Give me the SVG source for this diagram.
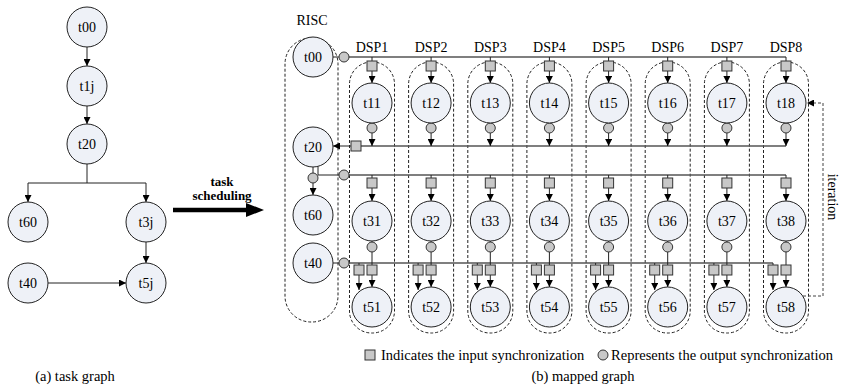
<svg xmlns="http://www.w3.org/2000/svg" width="843" height="388" viewBox="0 0 843 388">
<defs>
<marker id="ah" viewBox="0 0 10 10" refX="10" refY="5" markerUnits="userSpaceOnUse" markerWidth="9" markerHeight="7" orient="auto"><path d="M0,0 L10,5 L0,10 z" fill="#000"/></marker>
<style>
.n{fill:#eef1f7;stroke:#222;stroke-width:1}
.t{font-family:"Liberation Serif","Times New Roman",serif;font-size:14px;fill:#000;text-anchor:middle}
.lg{font-family:"Liberation Serif","Times New Roman",serif;font-size:14.5px;fill:#000}
.b{font-family:"Liberation Serif","Times New Roman",serif;font-size:13px;font-weight:bold;fill:#000;text-anchor:middle}
.c{stroke:#222;stroke-width:1;fill:none}
.bus{stroke:#555;stroke-width:1.5;fill:none}
.a{marker-end:url(#ah)}
.sq{fill:#c8c8c8;stroke:#333;stroke-width:1}
.oc{fill:#c8c8c8;stroke:#333;stroke-width:1}
.box{fill:none;stroke:#222;stroke-width:1;stroke-dasharray:3 2}
.it{fill:none;stroke:#444;stroke-width:1;stroke-dasharray:3 2}
</style>
</defs>
<rect width="843" height="388" fill="#fff"/>

<!-- (a) task graph -->
<g id="a-connectors">
<line class="c a" x1="87" y1="47" x2="87" y2="66"/>
<line class="c a" x1="87" y1="106" x2="87" y2="124"/>
<path class="c" d="M87,164 V183 M28,183 H146"/>
<line class="c a" x1="28" y1="183" x2="28" y2="202"/>
<line class="c a" x1="146" y1="183" x2="146" y2="202"/>
<line class="c a" x1="146" y1="242" x2="146" y2="263"/>
<line class="c a" x1="48" y1="283" x2="126" y2="283"/>
</g>
<g id="a-t00"><circle class="n" cx="87" cy="27" r="20"/><text class="t" x="87" y="32">t00</text></g>
<g id="a-t1j"><circle class="n" cx="87" cy="86" r="20"/><text class="t" x="87" y="91">t1j</text></g>
<g id="a-t20"><circle class="n" cx="87" cy="144" r="20"/><text class="t" x="87" y="149">t20</text></g>
<g id="a-t60"><circle class="n" cx="28" cy="222" r="20"/><text class="t" x="28" y="227">t60</text></g>
<g id="a-t3j"><circle class="n" cx="146" cy="222" r="20"/><text class="t" x="146" y="227">t3j</text></g>
<g id="a-t40"><circle class="n" cx="28" cy="283" r="20"/><text class="t" x="28" y="288">t40</text></g>
<g id="a-t5j"><circle class="n" cx="146" cy="283" r="20"/><text class="t" x="146" y="288">t5j</text></g>
<text class="lg" x="75" y="381" text-anchor="middle">(a) task graph</text>

<!-- task scheduling arrow -->
<g id="sched">
<line x1="173" y1="210" x2="250" y2="210" stroke="#000" stroke-width="4.5"/>
<polygon points="246,203 264,210 246,217" fill="#000"/>
<text class="b" x="222" y="186">task</text>
<text class="b" x="222" y="200">scheduling</text>
</g>

<!-- (b) mapped graph: containers -->
<g id="containers">
<rect class="box" x="285" y="38" width="53" height="284" rx="26"/>
<text class="t" x="312" y="25">RISC</text>
<g transform="translate(372,0)"><rect class="box" x="-22.5" y="62" width="45" height="271" rx="22"/><text class="t" x="0" y="52">DSP1</text></g>
<g transform="translate(431.1,0)"><rect class="box" x="-22.5" y="62" width="45" height="271" rx="22"/><text class="t" x="0" y="52">DSP2</text></g>
<g transform="translate(490.3,0)"><rect class="box" x="-22.5" y="62" width="45" height="271" rx="22"/><text class="t" x="0" y="52">DSP3</text></g>
<g transform="translate(549.4,0)"><rect class="box" x="-22.5" y="62" width="45" height="271" rx="22"/><text class="t" x="0" y="52">DSP4</text></g>
<g transform="translate(608.6,0)"><rect class="box" x="-22.5" y="62" width="45" height="271" rx="22"/><text class="t" x="0" y="52">DSP5</text></g>
<g transform="translate(667.7,0)"><rect class="box" x="-22.5" y="62" width="45" height="271" rx="22"/><text class="t" x="0" y="52">DSP6</text></g>
<g transform="translate(726.9,0)"><rect class="box" x="-22.5" y="62" width="45" height="271" rx="22"/><text class="t" x="0" y="52">DSP7</text></g>
<g transform="translate(786,0)"><rect class="box" x="-22.5" y="62" width="45" height="271" rx="22"/><text class="t" x="0" y="52">DSP8</text></g>
</g>

<!-- connectors -->
<g id="connectors">
<line class="c" x1="333" y1="57" x2="339" y2="57"/>
<line class="bus" x1="349" y1="57" x2="786" y2="57"/>
<line class="bus" x1="361" y1="146" x2="786" y2="146"/>
<line class="c a" x1="351" y1="146" x2="333" y2="146"/>
<line class="c" x1="313" y1="167" x2="313" y2="173"/>
<line class="c a" x1="313" y1="183" x2="313" y2="195"/>
<path class="c" d="M318,166.4 V175 H339"/>
<line class="bus" x1="349" y1="175" x2="786" y2="175"/>
<line class="c" x1="333" y1="263" x2="339" y2="263"/>
<line class="bus" x1="349" y1="263" x2="773" y2="263"/>
<path class="it a" d="M803,296 H823 V103 H807"/>
<g id="col1" transform="translate(372,0)">
<line class="c" x1="0" y1="57" x2="0" y2="61"/><line class="c a" x1="0" y1="71" x2="0" y2="83"/>
<line class="c a" x1="0" y1="133" x2="0" y2="146"/>
<line class="c" x1="0" y1="175" x2="0" y2="178"/><line class="c a" x1="0" y1="188" x2="0" y2="201"/>
<line class="c" x1="0" y1="241" x2="0" y2="265"/><line class="c" x1="-13" y1="263" x2="-13" y2="265"/>
<line class="c a" x1="-13" y1="275" x2="-13" y2="290"/><line class="c a" x1="0" y1="275" x2="0" y2="287"/>
</g>
<g id="col2" transform="translate(431.1,0)">
<line class="c" x1="0" y1="57" x2="0" y2="61"/><line class="c a" x1="0" y1="71" x2="0" y2="83"/>
<line class="c a" x1="0" y1="133" x2="0" y2="146"/>
<line class="c" x1="0" y1="175" x2="0" y2="178"/><line class="c a" x1="0" y1="188" x2="0" y2="201"/>
<line class="c" x1="0" y1="241" x2="0" y2="265"/><line class="c" x1="-13" y1="263" x2="-13" y2="265"/>
<line class="c a" x1="-13" y1="275" x2="-13" y2="290"/><line class="c a" x1="0" y1="275" x2="0" y2="287"/>
</g>
<g id="col3" transform="translate(490.3,0)">
<line class="c" x1="0" y1="57" x2="0" y2="61"/><line class="c a" x1="0" y1="71" x2="0" y2="83"/>
<line class="c a" x1="0" y1="133" x2="0" y2="146"/>
<line class="c" x1="0" y1="175" x2="0" y2="178"/><line class="c a" x1="0" y1="188" x2="0" y2="201"/>
<line class="c" x1="0" y1="241" x2="0" y2="265"/><line class="c" x1="-13" y1="263" x2="-13" y2="265"/>
<line class="c a" x1="-13" y1="275" x2="-13" y2="290"/><line class="c a" x1="0" y1="275" x2="0" y2="287"/>
</g>
<g id="col4" transform="translate(549.4,0)">
<line class="c" x1="0" y1="57" x2="0" y2="61"/><line class="c a" x1="0" y1="71" x2="0" y2="83"/>
<line class="c a" x1="0" y1="133" x2="0" y2="146"/>
<line class="c" x1="0" y1="175" x2="0" y2="178"/><line class="c a" x1="0" y1="188" x2="0" y2="201"/>
<line class="c" x1="0" y1="241" x2="0" y2="265"/><line class="c" x1="-13" y1="263" x2="-13" y2="265"/>
<line class="c a" x1="-13" y1="275" x2="-13" y2="290"/><line class="c a" x1="0" y1="275" x2="0" y2="287"/>
</g>
<g id="col5" transform="translate(608.6,0)">
<line class="c" x1="0" y1="57" x2="0" y2="61"/><line class="c a" x1="0" y1="71" x2="0" y2="83"/>
<line class="c a" x1="0" y1="133" x2="0" y2="146"/>
<line class="c" x1="0" y1="175" x2="0" y2="178"/><line class="c a" x1="0" y1="188" x2="0" y2="201"/>
<line class="c" x1="0" y1="241" x2="0" y2="265"/><line class="c" x1="-13" y1="263" x2="-13" y2="265"/>
<line class="c a" x1="-13" y1="275" x2="-13" y2="290"/><line class="c a" x1="0" y1="275" x2="0" y2="287"/>
</g>
<g id="col6" transform="translate(667.7,0)">
<line class="c" x1="0" y1="57" x2="0" y2="61"/><line class="c a" x1="0" y1="71" x2="0" y2="83"/>
<line class="c a" x1="0" y1="133" x2="0" y2="146"/>
<line class="c" x1="0" y1="175" x2="0" y2="178"/><line class="c a" x1="0" y1="188" x2="0" y2="201"/>
<line class="c" x1="0" y1="241" x2="0" y2="265"/><line class="c" x1="-13" y1="263" x2="-13" y2="265"/>
<line class="c a" x1="-13" y1="275" x2="-13" y2="290"/><line class="c a" x1="0" y1="275" x2="0" y2="287"/>
</g>
<g id="col7" transform="translate(726.9,0)">
<line class="c" x1="0" y1="57" x2="0" y2="61"/><line class="c a" x1="0" y1="71" x2="0" y2="83"/>
<line class="c a" x1="0" y1="133" x2="0" y2="146"/>
<line class="c" x1="0" y1="175" x2="0" y2="178"/><line class="c a" x1="0" y1="188" x2="0" y2="201"/>
<line class="c" x1="0" y1="241" x2="0" y2="265"/><line class="c" x1="-13" y1="263" x2="-13" y2="265"/>
<line class="c a" x1="-13" y1="275" x2="-13" y2="290"/><line class="c a" x1="0" y1="275" x2="0" y2="287"/>
</g>
<g id="col8" transform="translate(786,0)">
<line class="c" x1="0" y1="57" x2="0" y2="61"/><line class="c a" x1="0" y1="71" x2="0" y2="83"/>
<line class="c a" x1="0" y1="133" x2="0" y2="146"/>
<line class="c" x1="0" y1="175" x2="0" y2="178"/><line class="c a" x1="0" y1="188" x2="0" y2="201"/>
<line class="c" x1="0" y1="241" x2="0" y2="265"/><line class="c" x1="-13" y1="263" x2="-13" y2="265"/>
<line class="c a" x1="-13" y1="275" x2="-13" y2="290"/><line class="c a" x1="0" y1="275" x2="0" y2="287"/>
</g>
</g>

<!-- synchronization markers -->
<g id="sync">
<circle class="oc" cx="344" cy="57" r="5"/>
<rect class="sq" x="351" y="141" width="10" height="10"/>
<circle class="oc" cx="313" cy="178" r="5"/>
<circle class="oc" cx="344" cy="175" r="5"/>
<circle class="oc" cx="344" cy="263" r="5"/>
<g transform="translate(372,0)"><rect class="sq" x="-5" y="61" width="10" height="10"/><circle class="oc" cx="0" cy="128" r="5"/><rect class="sq" x="-5" y="178" width="10" height="10"/><circle class="oc" cx="0" cy="247" r="5"/><rect class="sq" x="-5" y="265" width="10" height="10"/><rect class="sq" x="-18" y="265" width="10" height="10"/></g>
<g transform="translate(431.1,0)"><rect class="sq" x="-5" y="61" width="10" height="10"/><circle class="oc" cx="0" cy="128" r="5"/><rect class="sq" x="-5" y="178" width="10" height="10"/><circle class="oc" cx="0" cy="247" r="5"/><rect class="sq" x="-5" y="265" width="10" height="10"/><rect class="sq" x="-18" y="265" width="10" height="10"/></g>
<g transform="translate(490.3,0)"><rect class="sq" x="-5" y="61" width="10" height="10"/><circle class="oc" cx="0" cy="128" r="5"/><rect class="sq" x="-5" y="178" width="10" height="10"/><circle class="oc" cx="0" cy="247" r="5"/><rect class="sq" x="-5" y="265" width="10" height="10"/><rect class="sq" x="-18" y="265" width="10" height="10"/></g>
<g transform="translate(549.4,0)"><rect class="sq" x="-5" y="61" width="10" height="10"/><circle class="oc" cx="0" cy="128" r="5"/><rect class="sq" x="-5" y="178" width="10" height="10"/><circle class="oc" cx="0" cy="247" r="5"/><rect class="sq" x="-5" y="265" width="10" height="10"/><rect class="sq" x="-18" y="265" width="10" height="10"/></g>
<g transform="translate(608.6,0)"><rect class="sq" x="-5" y="61" width="10" height="10"/><circle class="oc" cx="0" cy="128" r="5"/><rect class="sq" x="-5" y="178" width="10" height="10"/><circle class="oc" cx="0" cy="247" r="5"/><rect class="sq" x="-5" y="265" width="10" height="10"/><rect class="sq" x="-18" y="265" width="10" height="10"/></g>
<g transform="translate(667.7,0)"><rect class="sq" x="-5" y="61" width="10" height="10"/><circle class="oc" cx="0" cy="128" r="5"/><rect class="sq" x="-5" y="178" width="10" height="10"/><circle class="oc" cx="0" cy="247" r="5"/><rect class="sq" x="-5" y="265" width="10" height="10"/><rect class="sq" x="-18" y="265" width="10" height="10"/></g>
<g transform="translate(726.9,0)"><rect class="sq" x="-5" y="61" width="10" height="10"/><circle class="oc" cx="0" cy="128" r="5"/><rect class="sq" x="-5" y="178" width="10" height="10"/><circle class="oc" cx="0" cy="247" r="5"/><rect class="sq" x="-5" y="265" width="10" height="10"/><rect class="sq" x="-18" y="265" width="10" height="10"/></g>
<g transform="translate(786,0)"><rect class="sq" x="-5" y="61" width="10" height="10"/><circle class="oc" cx="0" cy="128" r="5"/><rect class="sq" x="-5" y="178" width="10" height="10"/><circle class="oc" cx="0" cy="247" r="5"/><rect class="sq" x="-5" y="265" width="10" height="10"/><rect class="sq" x="-18" y="265" width="10" height="10"/></g>
</g>

<!-- RISC nodes -->
<g id="t00"><circle class="n" cx="313" cy="57" r="20"/><text class="t" x="313" y="62">t00</text></g>
<g id="t20"><circle class="n" cx="313" cy="147" r="20"/><text class="t" x="313" y="152">t20</text></g>
<g id="t60"><circle class="n" cx="313" cy="215" r="20"/><text class="t" x="313" y="220">t60</text></g>
<g id="t40"><circle class="n" cx="313" cy="263" r="20"/><text class="t" x="313" y="268">t40</text></g>

<!-- DSP nodes -->
<g id="t11"><circle class="n" cx="372" cy="103" r="20"/><text class="t" x="372" y="108">t11</text></g>
<g id="t12"><circle class="n" cx="431.1" cy="103" r="20"/><text class="t" x="431.1" y="108">t12</text></g>
<g id="t13"><circle class="n" cx="490.3" cy="103" r="20"/><text class="t" x="490.3" y="108">t13</text></g>
<g id="t14"><circle class="n" cx="549.4" cy="103" r="20"/><text class="t" x="549.4" y="108">t14</text></g>
<g id="t15"><circle class="n" cx="608.6" cy="103" r="20"/><text class="t" x="608.6" y="108">t15</text></g>
<g id="t16"><circle class="n" cx="667.7" cy="103" r="20"/><text class="t" x="667.7" y="108">t16</text></g>
<g id="t17"><circle class="n" cx="726.9" cy="103" r="20"/><text class="t" x="726.9" y="108">t17</text></g>
<g id="t18"><circle class="n" cx="786" cy="103" r="20"/><text class="t" x="786" y="108">t18</text></g>

<g id="t31"><circle class="n" cx="372" cy="221" r="20"/><text class="t" x="372" y="226">t31</text></g>
<g id="t32"><circle class="n" cx="431.1" cy="221" r="20"/><text class="t" x="431.1" y="226">t32</text></g>
<g id="t33"><circle class="n" cx="490.3" cy="221" r="20"/><text class="t" x="490.3" y="226">t33</text></g>
<g id="t34"><circle class="n" cx="549.4" cy="221" r="20"/><text class="t" x="549.4" y="226">t34</text></g>
<g id="t35"><circle class="n" cx="608.6" cy="221" r="20"/><text class="t" x="608.6" y="226">t35</text></g>
<g id="t36"><circle class="n" cx="667.7" cy="221" r="20"/><text class="t" x="667.7" y="226">t36</text></g>
<g id="t37"><circle class="n" cx="726.9" cy="221" r="20"/><text class="t" x="726.9" y="226">t37</text></g>
<g id="t38"><circle class="n" cx="786" cy="221" r="20"/><text class="t" x="786" y="226">t38</text></g>

<g id="t51"><circle class="n" cx="372" cy="307" r="20"/><text class="t" x="372" y="312">t51</text></g>
<g id="t52"><circle class="n" cx="431.1" cy="307" r="20"/><text class="t" x="431.1" y="312">t52</text></g>
<g id="t53"><circle class="n" cx="490.3" cy="307" r="20"/><text class="t" x="490.3" y="312">t53</text></g>
<g id="t54"><circle class="n" cx="549.4" cy="307" r="20"/><text class="t" x="549.4" y="312">t54</text></g>
<g id="t55"><circle class="n" cx="608.6" cy="307" r="20"/><text class="t" x="608.6" y="312">t55</text></g>
<g id="t56"><circle class="n" cx="667.7" cy="307" r="20"/><text class="t" x="667.7" y="312">t56</text></g>
<g id="t57"><circle class="n" cx="726.9" cy="307" r="20"/><text class="t" x="726.9" y="312">t57</text></g>
<g id="t58"><circle class="n" cx="786" cy="307" r="20"/><text class="t" x="786" y="312">t58</text></g>

<text class="t" transform="translate(828,197) rotate(90)">iteration</text>

<!-- legend -->
<g id="legend">
<rect class="sq" x="365" y="350" width="10" height="10"/>
<text class="lg" x="381" y="360">Indicates the input synchronization</text>
<circle class="oc" cx="603" cy="355" r="5"/>
<text class="lg" x="833" y="360" text-anchor="end">Represents the output synchronization</text>
</g>
<text class="lg" x="583" y="381" text-anchor="middle">(b) mapped graph</text>
</svg>
